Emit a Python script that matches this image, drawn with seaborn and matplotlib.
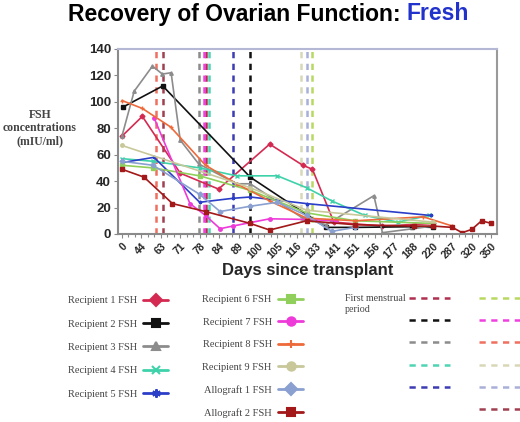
import numpy as np
import pandas as pd
import seaborn as sns
import matplotlib.pyplot as plt
from matplotlib.lines import Line2D

# x positions are in units of the labelled day categories (0 -> day 0, 19 -> day 350)
day_labels = ['0', '44', '63', '71', '78', '84', '89', '100', '105', '116',
              '133', '141', '151', '156', '177', '188', '220', '287', '320', '350']

names = ['Recipient 1 FSH', 'Recipient 2 FSH', 'Recipient 3 FSH', 'Recipient 4 FSH',
         'Recipient 5 FSH', 'Recipient 6 FSH', 'Recipient 7 FSH', 'Recipient 8 FSH',
         'Recipient 9 FSH', 'Allograft 1 FSH', 'Allograft 2 FSH']

# FSH series
r1_x = [0, 1.05, 3.0, 4.97, 7.6, 9.3, 9.8, 10.9, 13.4, 16.0]
r1_y = [74, 89, 46, 34, 68, 52, 49, 9, 6, 8]
r2_x = [0.05, 2.1, 6.6, 10.5, 12.0, 14.9, 16.0]
r2_y = [96, 112, 43, 5, 5, 5.5, 5]
r3_x = [0, 0.63, 1.57, 2.08, 2.53, 3.0, 3.95, 5.9, 6.6, 9.3, 10.5, 12.96, 13.4, 16.0]
r3_y = [74, 108, 127, 121, 122, 71, 53, 38, 38, 12, 7, 29, 1, 6]
r4_x = [0, 1.6, 4.0, 5.9, 8.0, 9.5, 10.8, 12.5, 14.2, 15.8]
r4_y = [57, 55, 50, 44, 44, 35, 25, 14, 9, 14]
r5_x = [0, 1.65, 4.0, 5.7, 6.6, 9.5, 15.9]
r5_y = [54, 58, 24, 27, 28, 23, 14]
r6_x = [0, 1.6, 4.0, 6.6, 9.5, 12.0, 16.0]
r6_y = [52, 50, 44, 33, 16, 10, 8]
r7_x = [1.65, 3.5, 4.3, 5.05, 5.7, 7.6, 9.5, 11.0]
r7_y = [88, 23, 14, 4, 6, 11.5, 11, 10]
r8_x = [0, 1.05, 2.5, 4.3, 5.9, 7.6, 9.5, 12.0, 15.5, 17.0]
r8_y = [101, 95, 81, 52, 38, 25, 12, 10, 13, 6]
r9_x = [0, 6.6, 9.5, 16.0]
r9_y = [67, 35, 18, 9]
a1_x = [0, 1.6, 4.0, 5.05, 6.6, 8.0, 9.5, 10.8, 12.0]
a1_y = [55, 52, 30, 17, 21, 24, 14, 2, 5]
a2_x = [0, 1.14, 2.6, 4.3, 6.6, 7.6, 9.5, 12.0, 15.0, 16.0, 17.0, 17.5, 18.0, 18.5, 19.0]
a2_y = [49, 43, 23, 17, 8, 3, 10, 7, 6, 6, 5, 1, 3.5, 10, 8]

# first menstrual period, same order as names
period_x = [4.3, 6.6, 3.95, 4.5, 5.7, 9.8, 4.2, 1.77, 9.2, 9.5, 2.1]

series_x = [r1_x, r2_x, r3_x, r4_x, r5_x, r6_x, r7_x, r8_x, r9_x, a1_x, a2_x]
series_y = [r1_y, r2_y, r3_y, r4_y, r5_y, r6_y, r7_y, r8_y, r9_y, a1_y, a2_y]

colors = ['#d42a52', '#111111', '#8c8c8c', '#3ed2aa', '#2b3ec8', '#90cf5c',
          '#ee3ad8', '#ee6a3a', '#c8c89a', '#8aa0d0', '#a31818']
markers = ['D', 's', '^', 'x', (6, 2, 0), 's', 'o', '+', 'o', 'D', 's']
marker_sizes = [2.5, 3.5, 2.5, 2.5, 2.5, 2.5, 2.5, 2.5, 2.5, 2.5, 3.5]
period_colors = ['#b03050', '#111111', '#8c8c8c', '#4fd4b4', '#3c3cb4', '#b8d860',
                 '#f040e0', '#f07060', '#d8d8b8', '#a8b0d8', '#a04050']

df = pd.concat([pd.DataFrame({'series': n, 'pos': x, 'fsh': y})
                for n, x, y in zip(names, series_x, series_y)], ignore_index=True)

sns.set_theme(style='white')
plt.rcParams['font.family'] = ['Liberation Sans', 'DejaVu Sans']

fig = plt.figure(figsize=(5.2, 4.22), dpi=100)
ax = fig.add_axes([0.227, 0.4455, 0.729, 0.4385])

# vertical dashed lines for first menstrual period
for px, c in zip(period_x, period_colors):
    ax.axvline(px, color=c, lw=1.8, ls=(0, (2.5, 2.2)), zorder=1)

for n, c, m, ms in zip(names, colors, markers, marker_sizes):
    sns.lineplot(data=df[df.series == n], x='pos', y='fsh', color=c, marker=m,
                 markersize=ms, markeredgecolor=c, markerfacecolor=c,
                 markeredgewidth=1, lw=1.2, estimator=None, sort=False,
                 legend=False, ax=ax, zorder=2)

ax.set_xlim(-0.2, 19.3)
ax.set_ylim(0, 140)
ax.set_yticks(range(0, 141, 20))
ax.set_xticks(range(len(day_labels)))
ax.set_xticklabels(day_labels, rotation=45, ha='right', rotation_mode='anchor',
                   fontsize=7.5, fontweight='bold')
ax.set_xticks(np.arange(0, 19.01, 1 / 3), minor=True)
for lab in ax.get_yticklabels():
    lab.set_fontweight('bold')
    lab.set_fontsize(9.5)
ax.tick_params(axis='both', which='both', direction='out', color='#888888',
               length=3, width=0.8, pad=2, left=True, bottom=True)
ax.tick_params(axis='x', which='minor', length=2)
ax.set_xlabel('')
ax.set_ylabel('')
ax.spines['left'].set_color('#8a8a8a')
ax.spines['bottom'].set_color('#8a8a8a')
ax.spines['top'].set_color('#b4b8d4')
ax.spines['right'].set_color('#9a9a9a')
for s in ax.spines.values():
    s.set_linewidth(1.5)

# titles and axis captions
fig.text(401 / 520, 1 - 14 / 422, 'Recovery of Ovarian Function:', ha='right',
         va='center', fontsize=16.5, fontweight='bold', color='black')
fig.text(406 / 520, 1 - 14 / 422, 'Fresh', ha='left', va='center',
         fontsize=16.5, fontweight='bold', color='#2233cc')
fig.text(308 / 520, 1 - 271 / 422, 'Days since transplant', ha='center',
         va='center', fontsize=12, fontweight='bold')
fig.text(40 / 520, 1 - 128 / 422, 'FSH\nconcentrations\n(mIU/ml)', ha='center',
         va='center', fontsize=8.5, fontweight='bold', color='#444444',
         family=['Liberation Serif', 'DejaVu Serif'], linespacing=1.15)

# legends
serif = {'family': ['Liberation Serif', 'DejaVu Serif'], 'size': 7.5}
handles = [Line2D([], [], color=c, marker=m, markersize=6, lw=2, mec=c, mfc=c, mew=1.5)
           for c, m in zip(colors, markers)]
leg_kw = dict(frameon=False, markerfirst=False, prop=serif, labelcolor='#444444',
              handlelength=2.4, borderpad=0, borderaxespad=0, handletextpad=0.6)
fig.legend(handles=handles[:5], labels=names[:5], loc='upper right',
           bbox_to_anchor=(168 / 520, 1 - 296 / 422), labelspacing=1.35, **leg_kw)
fig.legend(handles=handles[5:], labels=names[5:], loc='upper right',
           bbox_to_anchor=(303 / 520, 1 - 295 / 422), labelspacing=1.27, **leg_kw)

dash_handles = [Line2D([], [], color=c, lw=1.8, ls=(0, (2.5, 2.2))) for c in period_colors]
blank = Line2D([], [], color='none')
dash_order = dash_handles[:5] + [blank] + dash_handles[5:]
fig.legend(handles=dash_order, labels=[' '] * len(dash_order), ncol=2,
           loc='upper left', bbox_to_anchor=(409 / 520, 1 - 294 / 422),
           frameon=False, prop=serif, handlelength=3.9, handletextpad=0,
           columnspacing=2.6, labelspacing=1.25, borderpad=0, borderaxespad=0)
fig.text(345 / 520, 1 - 294 / 422, 'First menstrual\nperiod', ha='left', va='top',
         fontsize=7.2, color='#444444', family=['Liberation Serif', 'DejaVu Serif'],
         linespacing=1.25)

fig.savefig('out.png', dpi=100)
